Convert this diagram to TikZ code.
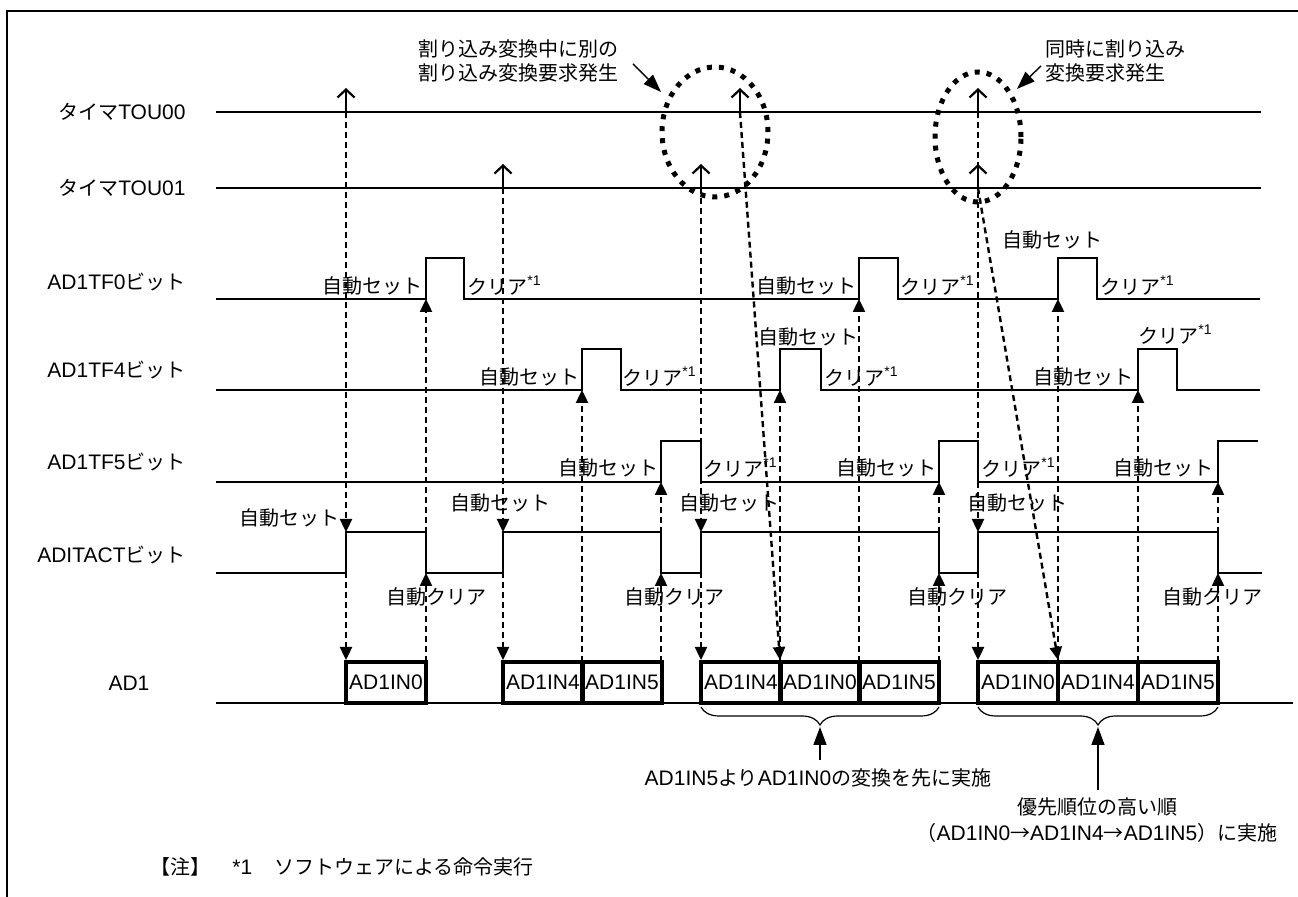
\documentclass[tikz,border=0pt]{standalone}
\usepackage{fontspec}
\setmainfont{Liberation Sans}
\newfontfamily\ja{Noto Sans CJK JP}
\usetikzlibrary{arrows.meta,decorations.pathreplacing}
\newcommand{\jp}[1]{{\ja\fontsize{10}{12}\selectfont #1}}
\newcommand{\noteone}{\raisebox{4.5pt}{\rmfamily\fontsize{7}{8}\selectfont *1}}

\begin{document}
\begin{tikzpicture}[x=0.5pt, y=-0.5pt,
  sig/.style={line width=1pt},
  evt/.style={line width=1.2pt, dash pattern=on 3pt off 2pt, -{Triangle[length=6.5pt,width=6pt]}},
  trig/.style={line width=1.1pt, -{Straight Barb[length=4pt,width=8.5pt]}},
  lbl/.style={inner sep=0pt, font=\fontsize{10.5}{12.6}\selectfont},
  jlbl/.style={inner sep=0pt, font=\ja\fontsize{10}{12}\selectfont},
  adbox/.style={draw, line width=1.8pt, outer sep=0pt, inner sep=0pt, minimum width=40pt,
    minimum height=20.5pt, anchor=south west, font=\fontsize{10.5}{12.6}\selectfont},
  ring/.style={line width=2.5pt, dash pattern=on 2.5pt off 3.5pt},
  callout/.style={line width=0.7pt, -{Triangle[length=9pt,width=6.5pt]}}]
\useasboundingbox (0,0) rectangle (1298,897);
\fill[white] (0,0) rectangle (1298,897);
% frame
\draw[line width=1.4pt] (7,897) -- (7,11) -- (1298,11);

% signal names
\node[lbl, anchor=east] (tou0) at (186,112) {\jp{タイマ}TOU00};
\node[lbl, anchor=east] (tou1) at (186,188) {\jp{タイマ}TOU01};
\node[lbl, anchor=east] (tf0) at (186,282) {AD1TF0\jp{ビット}};
\node[lbl, anchor=east] (tf4) at (186,370) {AD1TF4\jp{ビット}};
\node[lbl, anchor=east] (tf5) at (186,462) {AD1TF5\jp{ビット}};
\node[lbl, anchor=east] (act) at (186,555) {ADITACT\jp{ビット}};
\node[lbl] (ad1) at (129,683) {AD1};

% waveforms
\draw[sig] (216,112) -- (1261,112);
\draw[sig] (216,188) -- (1261,188);
\draw[sig] (216,299) -| (426,258) -| (464,299) -| (859,258) -| (898,299) -| (1058,258) -| (1097,299) -- (1260,299);
\draw[sig] (216,390) -| (582,349) -| (621,390) -| (780,349) -| (821,390) -| (1138,349) -| (1177,390) -- (1260,390);
\draw[sig] (216,482) -| (661,441) -| (701,482) -| (939,441) -| (978,482) -| (1218,441) -- (1258,441);
\draw[sig] (216,573) -| (346,532) -| (426,573) -| (503,532) -| (661,573) -| (701,532) -| (939,573) -| (978,532) -| (1218,573) -- (1262,573);
\draw[sig] (216,703) -- (1293,703);

% conversions
\foreach \x/\t [count=\i] in {346/AD1IN0, 503/AD1IN4, 582/AD1IN5, 701/AD1IN4, 780/AD1IN0,
    859/AD1IN5, 978/AD1IN0, 1058/AD1IN4, 1138/AD1IN5}
  \node[adbox] (cv\i) at (\x,703) {\t};

% timer requests
\foreach \x/\y in {346/112, 503/188, 701/188, 740/112, 978/112, 978/188}
  \draw[trig] (\x,\y) -- (\x,\y-24);
\foreach \x/\y in {346/112, 503/188, 701/188, 978/112} {
  \draw[evt] (\x,\y) -- (\x,532);
  \draw[evt] (\x,532) -- (\x,660);
}
\draw[evt] (740,112) -- (780,660);
\draw[evt] (978,188) -- (1058,660);

% end of conversion -> flags
\foreach \x/\y in {582/390, 780/390, 859/299, 1058/299, 1138/390}
  \draw[evt] (\x,662) -- (\x,\y);
\foreach \x/\y in {426/299, 661/482, 939/482, 1218/482} {
  \draw[evt] (\x,662) -- (\x,573);
  \draw[evt] (\x,573) -- (\x,\y);
}

% edge labels
\foreach \x/\y [count=\i] in {423/286, 857/286, 580/377, 1134/377, 659/468, 937/468, 1214/468, 340/518}
  \node[jlbl, anchor=east] (setl\i) at (\x,\y) {自動セット};
\foreach \x/\y [count=\i] in {1052/240, 808/337, 500/503, 729/503, 1017/503}
  \node[jlbl] (setc\i) at (\x,\y) {自動セット};
\foreach \x/\y [count=\i] in {467/286, 900/286, 1100/286, 622/377, 824/377, 703/468, 981/468}
  \node[jlbl, anchor=west] (clr\i) at (\x,\y) {クリア\noteone};
\node[jlbl] (clr8) at (1175,335) {クリア\noteone};
\foreach \x [count=\i] in {436, 674, 957, 1212}
  \node[jlbl] (aclr\i) at (\x,597) {自動クリア};

% interrupt requests
\draw[ring] (715,132) ellipse [x radius=26.5pt, y radius=32.5pt];
\draw[ring] (978,137) ellipse [x radius=21.5pt, y radius=32.5pt];
\node[jlbl, anchor=west, align=left] (req1) at (418,61) {割り込み変換中に別の\\割り込み変換要求発生};
\draw[callout] (633,64) -- (661,92);
\node[jlbl, anchor=west, align=left] (req2) at (1045,61) {同時に割り込み\\変換要求発生};
\draw[callout] (1041,66) -- (1017,89);

% braces
\draw[decorate, decoration={brace, mirror, amplitude=9pt}, line width=0.6pt] (701,707) -- (939,707);
\draw[decorate, decoration={brace, mirror, amplitude=9pt}, line width=0.6pt] (978,707) -- (1218,707);
\node[lbl] (why) at (818,778) {AD1IN5\jp{より}AD1IN0\jp{の変換を先に実施}};
\draw[callout] (820,760) -- (820,727);
\node[lbl, align=center] (order) at (1097,820) {\jp{優先順位の高い順}\\\jp{（}AD1IN0\jp{→}AD1IN4\jp{→}AD1IN5\jp{）に実施}};
\draw[callout] (1098,790) -- (1098,727);

% footnote
\node[lbl, anchor=west] (fn) at (150,867) {\jp{【注】}\hspace{11pt}*1\hspace{11pt}\jp{ソフトウェアによる命令実行}};
\end{tikzpicture}
\end{document}
